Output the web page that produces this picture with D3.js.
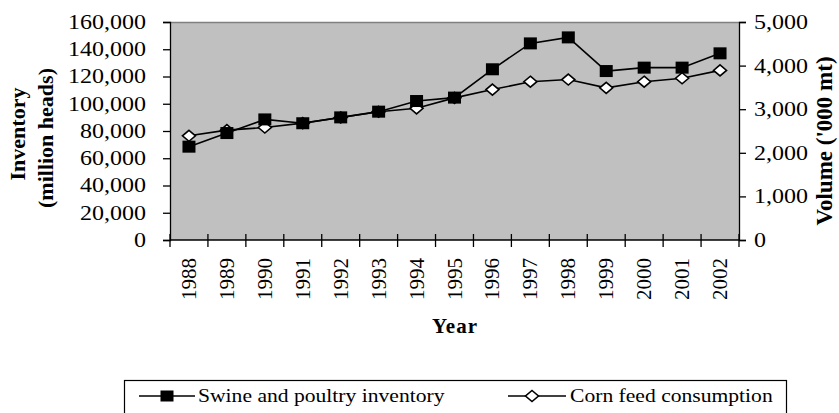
<!DOCTYPE html>
<html><head><meta charset="utf-8">
<script src="https://cdn.jsdelivr.net/npm/d3@7"></script>
<style>body{margin:0;background:#fff}svg{display:block}text{font-family:"Liberation Serif","Times New Roman",serif}</style>
</head><body><svg id="c" width="839" height="413"></svg>
<script>
const years = ["1988","1989","1990","1991","1992","1993","1994","1995","1996","1997","1998","1999","2000","2001","2002"];
const swine = [68500,78500,88500,85700,90000,94200,102000,104500,125300,144300,148700,124000,126500,126500,137000];
const corn = [2390,2520,2580,2680,2810,2940,3020,3260,3450,3630,3680,3490,3630,3710,3890];
const leftTicks = [0,20000,40000,60000,80000,100000,120000,140000,160000];
const rightTicks = [0,1000,2000,3000,4000,5000];
const seriesNames = ["Swine and poultry inventory","Corn feed consumption"];

const svg = d3.select("#c");
const L=170, R=739, T=22, B=240;
const SX = 1.2; // horizontal stretch of the reference text
const x = d3.scaleBand().domain(years).range([L,R]);
const yL = d3.scaleLinear().domain([0,160000]).range([B,T]);
const yR = d3.scaleLinear().domain([0,5000]).range([B,T]);
const fmt = d3.format(",");

svg.append("rect").attr("x",L).attr("y",T).attr("width",R-L).attr("height",B-T).attr("fill","#c0c0c0");
svg.append("line").attr("x1",L).attr("x2",R).attr("y1",T+0.5).attr("y2",T+0.5).attr("stroke","#808080").attr("stroke-width",1.3);

const gl = svg.append("g").attr("transform",`translate(${L},0)`).call(d3.axisLeft(yL).tickValues(leftTicks).tickFormat(fmt).tickSize(7));
const gr = svg.append("g").attr("transform",`translate(${R},0)`).call(d3.axisRight(yR).tickValues(rightTicks).tickFormat(fmt).tickSize(7));
[gl,gr].forEach(g=>{g.selectAll("line,path").attr("stroke","#000").attr("stroke-width",1.3);});
gl.selectAll("text").attr("x",null).attr("font-size",20).attr("fill","#000").attr("text-anchor","end")
  .attr("transform",`translate(${146-L},0) scale(${SX},1)`);
gr.selectAll("text").attr("x",null).attr("font-size",20).attr("fill","#000").attr("text-anchor","start")
  .attr("transform",`translate(${754-R},0) scale(${SX},1)`);

const gx = svg.append("g").attr("transform",`translate(0,${B})`);
gx.append("line").attr("x1",L).attr("x2",R).attr("stroke","#000").attr("stroke-width",1.3);
const bounds = years.map(d=>x(d)).concat([R]);
gx.selectAll(".tk").data(bounds).join("line").attr("x1",d=>d).attr("x2",d=>d).attr("y1",-6).attr("y2",7).attr("stroke","#000").attr("stroke-width",1.3);
gx.selectAll(".yl").data(years).join("text")
  .attr("transform",d=>`translate(${x(d)+x.bandwidth()/2+7},18) rotate(-90)`)
  .attr("text-anchor","end").attr("font-size",21).text(d=>d);

// titles
svg.append("text").attr("transform","translate(25,134) rotate(-90)").attr("text-anchor","middle").attr("font-size",22).attr("font-weight","bold").text("Inventory");
svg.append("text").attr("transform","translate(53,138) rotate(-90)").attr("text-anchor","middle").attr("font-size",22).attr("font-weight","bold").text("(million heads)");
svg.append("text").attr("transform","translate(832,141) rotate(-90)").attr("text-anchor","middle").attr("font-size",23).attr("font-weight","bold").text("Volume ('000 mt)");
svg.append("text").attr("x",455).attr("y",333).attr("text-anchor","middle").attr("font-size",21).attr("font-weight","bold").attr("letter-spacing",1).text("Year");

const cx = d=>x(d)+x.bandwidth()/2;
const line1 = d3.line().x((d,i)=>cx(years[i])).y(d=>yL(d));
const line2 = d3.line().x((d,i)=>cx(years[i])).y(d=>yR(d));
svg.append("path").attr("d",line2(corn)).attr("fill","none").attr("stroke","#000").attr("stroke-width",1.6);
svg.append("path").attr("d",line1(swine)).attr("fill","none").attr("stroke","#000").attr("stroke-width",1.6);
const sw = 13, sh = 12, dw = 6.5, dh = 5.5;
svg.selectAll(".dm").data(corn).join("path")
  .attr("d",(d,i)=>{const X=cx(years[i]),Y=yR(d);return `M${X},${Y-dh}L${X+dw},${Y}L${X},${Y+dh}L${X-dw},${Y}Z`;})
  .attr("fill","#fff").attr("stroke","#000").attr("stroke-width",1.6);
svg.selectAll(".sq").data(swine).join("rect")
  .attr("x",(d,i)=>cx(years[i])-sw/2).attr("y",d=>yL(d)-sh/2).attr("width",sw).attr("height",sh).attr("fill","#000");

// legend
const lg = svg.append("g");
lg.append("rect").attr("x",124.5).attr("y",380.5).attr("width",662).attr("height",40).attr("fill","#fff").attr("stroke","#000").attr("stroke-width",1.2);
const ly = 396;
lg.append("line").attr("x1",139).attr("x2",195).attr("y1",ly).attr("y2",ly).attr("stroke","#000").attr("stroke-width",1.6);
lg.append("rect").attr("x",167-6.5).attr("y",ly-5.5).attr("width",13).attr("height",11).attr("fill","#000");
lg.append("text").attr("transform",`translate(198,${ly+6}) scale(${SX},1)`).attr("font-size",18).text(seriesNames[0]);
lg.append("line").attr("x1",508).attr("x2",566).attr("y1",ly).attr("y2",ly).attr("stroke","#000").attr("stroke-width",1.6);
lg.append("path").attr("d",`M532,${ly-5.5}L538.5,${ly}L532,${ly+5.5}L525.5,${ly}Z`).attr("fill","#fff").attr("stroke","#000").attr("stroke-width",1.6);
lg.append("text").attr("transform",`translate(570,${ly+6}) scale(${SX},1)`).attr("font-size",18).text(seriesNames[1]);
</script></body></html>
